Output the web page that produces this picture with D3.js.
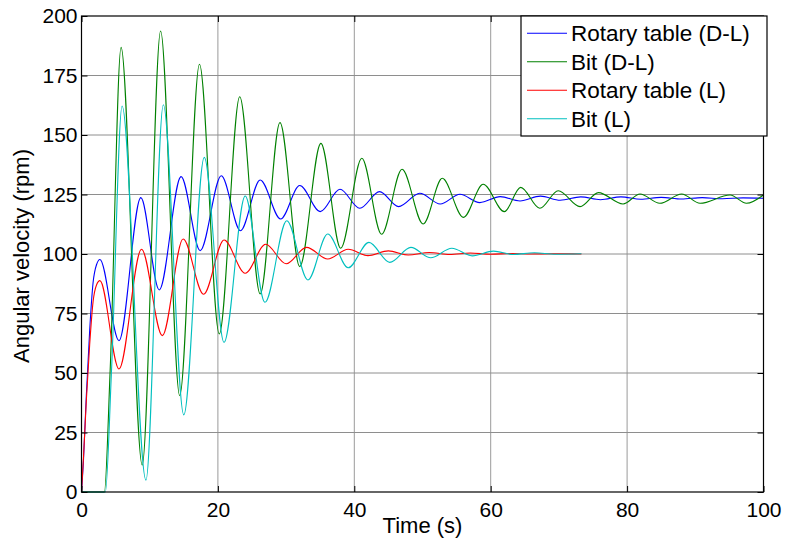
<!DOCTYPE html>
<html>
<head>
<meta charset="utf-8">
<script src="https://cdn.jsdelivr.net/npm/d3@7"></script>
<style>
  body { margin: 0; background: #fff; }
  svg { display: block; font-family: "Liberation Sans", Arial, sans-serif; }
</style>
</head>
<body>
<svg id="chart" width="785" height="546"></svg>
<script>
// values (time in s, velocity in rpm)
const seriesNames = ['Rotary table (D-L)', 'Bit (D-L)', 'Rotary table (L)', 'Bit (L)'];
const seriesColors = ['#0000ff', '#008000', '#ff0000', '#00bfbf'];

const rotaryDLt = [0, 0.3, 0.7, 1.2, 1.7, 2.2, 2.7, 5.5, 8.7, 11.4, 14.6, 17.4, 20.5, 23.3, 26.2, 29.2, 32.0, 35.0, 37.9, 40.8, 43.7, 46.5, 49.6, 52.6, 55.5, 58.4, 61.4, 64.3, 67.3, 70.2, 73.2, 76.1, 79.1, 82.0, 85.0, 88.0, 91.0, 94.0, 97.0, 100];
const rotaryDLv = [0, 14, 40, 68, 88, 95.5, 97.7, 63.6, 123.7, 84.9, 132.5, 101.4, 132.9, 109.8, 131.1, 114.7, 128.8, 117.8, 127.2, 119.2, 126.2, 119.9, 125.5, 121, 125.1, 121.6, 124.1, 122.3, 124.3, 122.6, 124, 122.8, 124, 123, 123.8, 123.1, 123.7, 123.2, 123.6, 123.4];

const bitDLt = [0, 3.35, 4.2, 5.8, 8.9, 11.6, 14.4, 17.3, 20.2, 23.2, 26.2, 29.1, 32.0, 35.1, 38.0, 41.1, 44.0, 47.0, 50.1, 52.9, 56.0, 58.9, 62.0, 64.4, 67.2, 69.9, 73.1, 75.8, 79.4, 81.9, 84.8, 88.0, 90.7, 95.1, 97.5, 100];
const bitDLv = [0, 0, 51, 186.8, 11.3, 193.7, 40.5, 179.7, 66.4, 166.1, 83.2, 155.2, 94.7, 146.5, 102.4, 140.2, 108.3, 135.6, 112.6, 131.8, 115.4, 129.3, 117.8, 128, 119.2, 126.6, 119.9, 125.8, 121, 125.2, 121.3, 125.2, 121.3, 124.8, 121.3, 124.8];

const rotaryLt = [0, 0.3, 0.7, 1.2, 1.7, 2.2, 2.7, 5.5, 8.8, 11.85, 14.9, 17.9, 20.9, 24.0, 27.0, 30.0, 33.0, 36.1, 39.1, 42.0, 45.0, 47.9, 51.0, 54.0, 57.0, 60.0, 63.0, 66.0, 69.0, 73.3];
const rotaryLv = [0, 15, 38, 62, 80, 87, 88.8, 51.7, 102, 65.7, 106.3, 83.1, 105.9, 91.9, 104.1, 95.9, 102.8, 97.9, 102, 99.3, 101.3, 99.6, 100.6, 99.8, 100.4, 99.9, 100.2, 100, 100.1, 100];

const bitLt = [0, 3.5, 4.4, 5.95, 9.45, 12.0, 15.0, 18.0, 20.9, 24.0, 26.9, 30.1, 33.2, 36.1, 39.1, 42.15, 45.2, 48.3, 51.2, 54.3, 57.3, 60.4, 63.3, 66.4, 69.5, 73.3];
const bitLv = [0, 0, 51, 162.2, 5, 162.7, 32.4, 140.6, 62.9, 124.4, 79.7, 114, 89.1, 108.4, 94.2, 104.9, 96.5, 102.8, 98.4, 102.4, 99.2, 101.2, 99.8, 100.5, 99.9, 100.1];

const xTicks = [0, 20, 40, 60, 80, 100];
const yTicks = [0, 25, 50, 75, 100, 125, 150, 175, 200];

const series = [
  [rotaryDLt, rotaryDLv],
  [bitDLt, bitDLv],
  [rotaryLt, rotaryLv],
  [bitLt, bitLv],
].map(([t, v], i) => ({
  name: seriesNames[i],
  color: seriesColors[i],
  points: t.map((d, j) => ({ t: d, v: v[j] })),
}));

const svg = d3.select('#chart');
const mLeft = 81.5, mRight = 763.5, mTop = 16, mBottom = 492;
const font = 21;

const x = d3.scaleLinear().domain([0, 100]).range([mLeft, mRight]);
const y = d3.scaleLinear().domain([0, 200]).range([mBottom, mTop]);

svg.append('rect').attr('width', 785).attr('height', 546).attr('fill', '#fff');

// grid
svg.append('g')
  .selectAll('line')
  .data(xTicks.slice(1, -1))
  .join('line')
  .attr('x1', d => x(d)).attr('x2', d => x(d))
  .attr('y1', mTop).attr('y2', mBottom)
  .attr('stroke', '#9a9a9a').attr('stroke-width', 1);
svg.append('g')
  .selectAll('line')
  .data(yTicks.slice(1, -1))
  .join('line')
  .attr('x1', mLeft).attr('x2', mRight)
  .attr('y1', d => y(d)).attr('y2', d => y(d))
  .attr('stroke', '#8e8e8e').attr('stroke-width', 1);

// curves
const line = d3.line()
  .x(d => x(d.t))
  .y(d => y(d.v))
  .curve(d3.curveMonotoneX);

svg.append('g')
  .selectAll('path')
  .data(series)
  .join('path')
  .attr('d', d => line(d.points))
  .attr('fill', 'none')
  .attr('stroke', d => d.color)
  .attr('stroke-width', 1.1);

// axes, ticks inside like matlab
const styleAxis = g => {
  g.select('.domain').remove();
  g.selectAll('.tick line').attr('stroke', '#000');
  g.selectAll('.tick text').attr('fill', '#000').style('font-size', font + 'px').style('font-family', '"Liberation Sans", Arial, sans-serif');
};

svg.append('g')
  .attr('transform', `translate(0,${mBottom})`)
  .call(d3.axisBottom(x).tickValues(xTicks).tickSize(-6).tickPadding(10))
  .call(styleAxis);
svg.append('g')
  .attr('transform', `translate(${mLeft},0)`)
  .call(d3.axisLeft(y).tickValues(yTicks).tickSize(-6).tickPadding(4))
  .call(styleAxis);
svg.append('g')
  .attr('transform', `translate(0,${mTop})`)
  .call(d3.axisTop(x).tickValues(xTicks).tickSize(-6).tickFormat(''))
  .call(styleAxis);
svg.append('g')
  .attr('transform', `translate(${mRight},0)`)
  .call(d3.axisRight(y).tickValues(yTicks).tickSize(-6).tickFormat(''))
  .call(styleAxis);

svg.append('rect')
  .attr('x', mLeft).attr('y', mTop)
  .attr('width', mRight - mLeft).attr('height', mBottom - mTop)
  .attr('fill', 'none').attr('stroke', '#000').attr('stroke-width', 1.2);

// axis titles
svg.append('text')
  .attr('x', (mLeft + mRight) / 2).attr('y', 533)
  .attr('text-anchor', 'middle')
  .style('font-size', '22px')
  .text('Time (s)');
svg.append('text')
  .attr('transform', `translate(29,256) rotate(-90)`)
  .attr('text-anchor', 'middle')
  .style('font-size', '22px')
  .text('Angular velocity (rpm)');

// legend
const legend = svg.append('g');
legend.append('rect')
  .attr('x', 521).attr('y', 16)
  .attr('width', 246).attr('height', 120)
  .attr('fill', '#fff').attr('stroke', '#000').attr('stroke-width', 1.2);
const rows = legend.selectAll('g')
  .data(series)
  .join('g')
  .attr('transform', (d, i) => `translate(0,${33.3 + i * 28.5})`);
rows.append('line')
  .attr('x1', 527).attr('x2', 567)
  .attr('stroke', d => d.color).attr('stroke-width', 1.1);
rows.append('text')
  .attr('x', 571).attr('y', 8)
  .style('font-size', '22.5px')
  .text(d => d.name);
</script>
</body>
</html>
